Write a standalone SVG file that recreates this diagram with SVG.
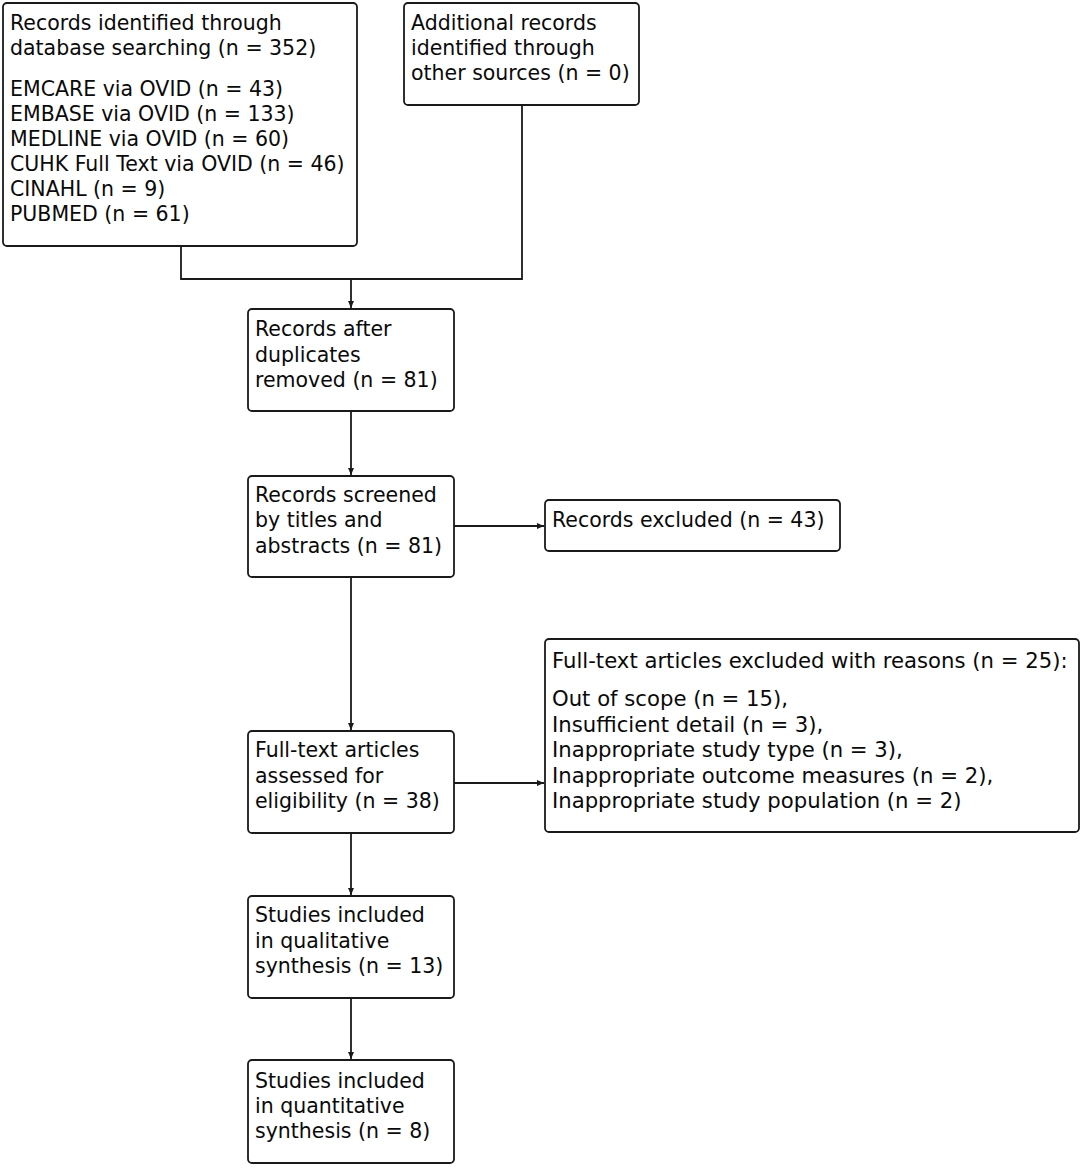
<svg xmlns="http://www.w3.org/2000/svg" width="1084" height="1168" viewBox="0 0 1084 1168">
<defs>
<marker id="ah" markerWidth="8" markerHeight="8" refX="7" refY="4" orient="auto" markerUnits="userSpaceOnUse">
<path d="M0,1 L7,4 L0,7 z" fill="#1a1a1a"/>
</marker>
</defs>
<style>
.box{fill:#fff;stroke:#1a1a1a;stroke-width:1.8}
.t{font-family:"DejaVu Sans",sans-serif;font-size:20.5px;fill:#0a0a0a}
.w{font-size:21.2px}
.c{fill:none;stroke:#1a1a1a;stroke-width:1.8}
</style>
<rect width="1084" height="1168" fill="#fff"/>
<g id="connectors">
<path class="c" d="M181,246 V279 H522 V105"/>
<path class="c" d="M351,279 V308" marker-end="url(#ah)"/>
<path class="c" d="M351,411 V475" marker-end="url(#ah)"/>
<path class="c" d="M454,526 H544" marker-end="url(#ah)"/>
<path class="c" d="M351,577 V730" marker-end="url(#ah)"/>
<path class="c" d="M454,783 H544" marker-end="url(#ah)"/>
<path class="c" d="M351,833 V895" marker-end="url(#ah)"/>
<path class="c" d="M351,998 V1059" marker-end="url(#ah)"/>
</g>
<g id="n1">
<rect class="box" x="3" y="3" width="354" height="243" rx="4"/>
<text class="t" x="10" y="30">Records identified through</text>
<text class="t" x="10" y="55">database searching (n = 352)</text>
<text class="t" x="10" y="96">EMCARE via OVID (n = 43)</text>
<text class="t" x="10" y="121">EMBASE via OVID (n = 133)</text>
<text class="t" x="10" y="146">MEDLINE via OVID (n = 60)</text>
<text class="t" x="10" y="171">CUHK Full Text via OVID (n = 46)</text>
<text class="t" x="10" y="196">CINAHL (n = 9)</text>
<text class="t" x="10" y="221">PUBMED (n = 61)</text>
</g>
<g id="n2">
<rect class="box" x="404" y="3" width="235" height="102" rx="4"/>
<text class="t" x="411" y="30">Additional records</text>
<text class="t" x="411" y="55">identified through</text>
<text class="t" x="411" y="80">other sources (n = 0)</text>
</g>
<g id="n3">
<rect class="box" x="248" y="309" width="206" height="102" rx="4"/>
<text class="t" x="255" y="336">Records after</text>
<text class="t" x="255" y="362">duplicates</text>
<text class="t" x="255" y="387">removed (n = 81)</text>
</g>
<g id="n4">
<rect class="box" x="248" y="476" width="206" height="101" rx="4"/>
<text class="t" x="255" y="502">Records screened</text>
<text class="t" x="255" y="527">by titles and</text>
<text class="t" x="255" y="553">abstracts (n = 81)</text>
</g>
<g id="n5">
<rect class="box" x="545" y="500" width="295" height="51" rx="4"/>
<text class="t" x="552" y="527">Records excluded (n = 43)</text>
</g>
<g id="n6">
<rect class="box" x="248" y="731" width="206" height="102" rx="4"/>
<text class="t" x="255" y="757">Full-text articles</text>
<text class="t" x="255" y="783">assessed for</text>
<text class="t" x="255" y="808">eligibility (n = 38)</text>
</g>
<g id="n7">
<rect class="box" x="545" y="639" width="534" height="193" rx="4"/>
<text class="t w" x="552" y="668">Full-text articles excluded with reasons (n = 25):</text>
<text class="t w" x="552" y="706">Out of scope (n = 15),</text>
<text class="t w" x="552" y="732">Insufficient detail (n = 3),</text>
<text class="t w" x="552" y="757">Inappropriate study type (n = 3),</text>
<text class="t w" x="552" y="783">Inappropriate outcome measures (n = 2),</text>
<text class="t w" x="552" y="808">Inappropriate study population (n = 2)</text>
</g>
<g id="n8">
<rect class="box" x="248" y="896" width="206" height="102" rx="4"/>
<text class="t" x="255" y="922">Studies included</text>
<text class="t" x="255" y="948">in qualitative</text>
<text class="t" x="255" y="973">synthesis (n = 13)</text>
</g>
<g id="n9">
<rect class="box" x="248" y="1060" width="206" height="103" rx="4"/>
<text class="t" x="255" y="1088">Studies included</text>
<text class="t" x="255" y="1113">in quantitative</text>
<text class="t" x="255" y="1138">synthesis (n = 8)</text>
</g>
</svg>
